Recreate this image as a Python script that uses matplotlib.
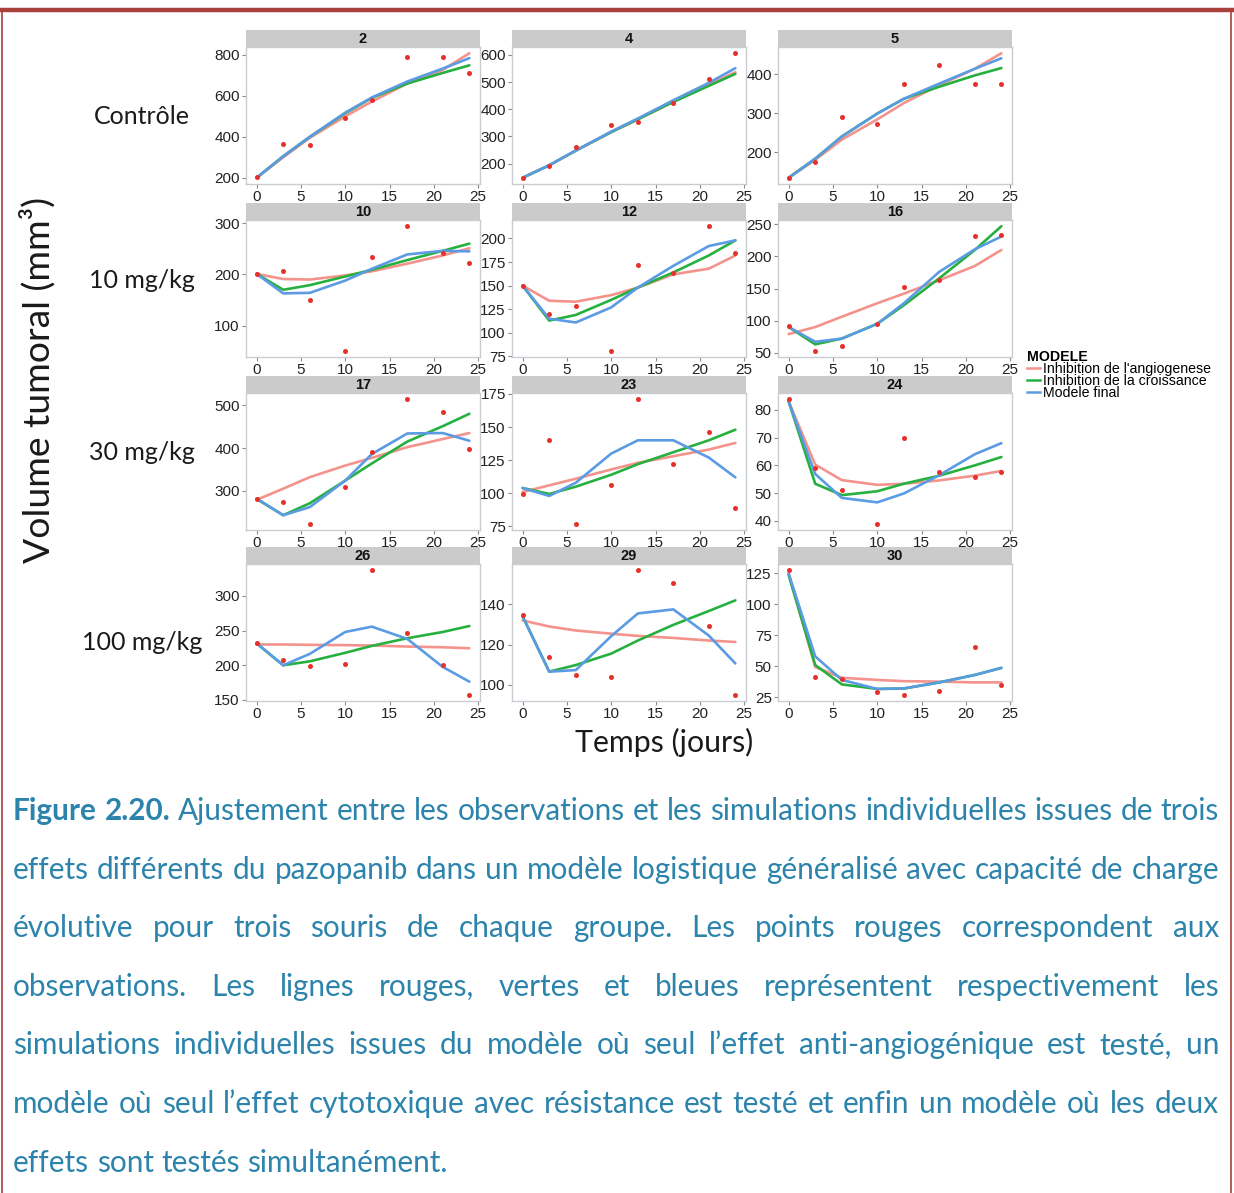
import numpy as np
import matplotlib
matplotlib.use("Agg")
import matplotlib.pyplot as plt
from matplotlib.lines import Line2D

# --- data ---
days = [0, 3, 6, 10, 13, 17, 21, 24]

panel_ids = ["2", "4", "5", "10", "12", "16", "17", "23", "24", "26", "29", "30"]
group_labels = ["Contrôle", "10 mg/kg", "30 mg/kg", "100 mg/kg"]
model_labels = ["Inhibition de l'angiogenese", "Inhibition de la croissance", "Modele final"]

obs_2 = [203, 367, 358, 490, 579, 792, 792, 713]
ang_2 = [200, 300, 395, 500, 572, 660, 727, 808]
cro_2 = [200, 305, 400, 515, 590, 660, 712, 749]
fin_2 = [200, 305, 400, 518, 592, 670, 733, 784]

obs_4 = [148, 192, 260, 341, 353, 423, 512, 606]
ang_4 = [148, 194, 248, 316, 363, 428, 490, 536]
cro_4 = [148, 194, 248, 316, 363, 427, 486, 530]
fin_4 = [148, 194, 248, 318, 366, 433, 497, 551]

obs_5 = [134, 175, 290, 273, 374, 424, 376, 375]
ang_5 = [134, 180, 232, 284, 326, 372, 414, 454]
cro_5 = [134, 183, 240, 299, 337, 368, 397, 416]
fin_5 = [134, 183, 240, 299, 337, 376, 414, 441]

obs_10 = [201, 206, 151, 51, 234, 294, 241, 222]
ang_10 = [201, 191, 190, 198, 206, 221, 237, 251]
cro_10 = [201, 170, 179, 196, 209, 228, 246, 260]
fin_10 = [201, 163, 164, 188, 211, 239, 246, 245]

obs_12 = [150, 120, 128, 81, 172, 163, 213, 185]
ang_12 = [150, 134, 133, 140, 148, 162, 168, 182]
cro_12 = [150, 113, 119, 135, 148, 164, 182, 198]
fin_12 = [150, 115, 111, 127, 148, 171, 192, 198]

obs_16 = [91, 53, 60, 94, 153, 163, 232, 234]
ang_16 = [79, 90, 106, 127, 142, 163, 185, 210]
cro_16 = [90, 63, 72, 95, 124, 166, 210, 247]
fin_16 = [90, 67, 72, 95, 127, 176, 211, 231]

obs_17 = [281, 275, 223, 310, 391, 514, 484, 398]
ang_17 = [279, 305, 332, 359, 377, 402, 421, 435]
cro_17 = [281, 243, 271, 324, 364, 415, 451, 480]
fin_17 = [282, 243, 262, 324, 386, 434, 435, 417]

obs_23 = [99.5, 140, 77, 106, 171, 122, 146, 89]
ang_23 = [101, 106, 111, 118, 123, 128, 133, 138]
cro_23 = [104, 99.5, 105, 114, 122, 131, 140, 148]
fin_23 = [104, 98, 108, 130, 140, 140, 127, 112]

obs_24 = [83.8, 59, 51, 39, 70, 57.5, 56, 57.5]
ang_24 = [83, 60.3, 54.7, 53, 53.4, 54.6, 56.3, 58]
cro_24 = [83, 53.4, 49.3, 50.7, 53.4, 56.3, 60, 63]
fin_24 = [83, 56.9, 48.3, 46.7, 49.9, 56.5, 64, 68]

obs_26 = [231.6, 207, 198.6, 202, 337, 247, 200, 157.5]
ang_26 = [230, 230, 229.5, 229, 228.5, 227, 226, 224.5]
cro_26 = [231.6, 200, 205.7, 218, 228, 239, 248, 256.6]
fin_26 = [231.6, 200, 216.5, 248, 255.7, 238, 197.6, 176.4]

obs_29 = [134.8, 114, 105, 104, 157, 150.6, 129.4, 95]
ang_29 = [132, 129, 127, 125.4, 124.3, 123.3, 122, 121.3]
cro_29 = [134, 106.5, 109.8, 115.5, 122, 129.8, 136.7, 142]
fin_29 = [134, 106.5, 107.3, 124.2, 135.5, 137.5, 124.5, 110.6]

obs_30 = [127.6, 41, 40, 29, 27, 30, 65.5, 34.5]
ang_30 = [125, 49.5, 40.7, 39, 38, 37.6, 37, 37]
cro_30 = [123.7, 51, 35.4, 31.7, 32, 37, 43, 48.7]
fin_30 = [125, 58, 39, 31.7, 32.2, 37, 43, 48.7]

yticks_2 = [200, 400, 600, 800]
yticks_4 = [200, 300, 400, 500, 600]
yticks_5 = [200, 300, 400]
yticks_10 = [100, 200, 300]
yticks_12 = [75, 100, 125, 150, 175, 200]
yticks_16 = [50, 100, 150, 200, 250]
yticks_17 = [300, 400, 500]
yticks_23 = [75, 100, 125, 150, 175]
yticks_24 = [40, 50, 60, 70, 80]
yticks_26 = [150, 200, 250, 300]
yticks_29 = [100, 120, 140]
yticks_30 = [25, 50, 75, 100, 125]
xticks = [0, 5, 10, 15, 20, 25]

caption_lines = [
    "Figure 2.20. Ajustement entre les observations et les simulations individuelles issues de trois",
    "effets différents du pazopanib dans un modèle logistique généralisé avec capacité de charge",
    "évolutive pour trois souris de chaque groupe. Les points rouges correspondent aux",
    "observations. Les lignes rouges, vertes et bleues représentent respectivement les",
    "simulations individuelles issues du modèle où seul l’effet anti-angiogénique est testé, un",
    "modèle où seul l’effet cytotoxique avec résistance est testé et enfin un modèle où les deux",
    "effets sont testés simultanément.",
]

panels = {
    "2": (obs_2, ang_2, cro_2, fin_2, yticks_2),
    "4": (obs_4, ang_4, cro_4, fin_4, yticks_4),
    "5": (obs_5, ang_5, cro_5, fin_5, yticks_5),
    "10": (obs_10, ang_10, cro_10, fin_10, yticks_10),
    "12": (obs_12, ang_12, cro_12, fin_12, yticks_12),
    "16": (obs_16, ang_16, cro_16, fin_16, yticks_16),
    "17": (obs_17, ang_17, cro_17, fin_17, yticks_17),
    "23": (obs_23, ang_23, cro_23, fin_23, yticks_23),
    "24": (obs_24, ang_24, cro_24, fin_24, yticks_24),
    "26": (obs_26, ang_26, cro_26, fin_26, yticks_26),
    "29": (obs_29, ang_29, cro_29, fin_29, yticks_29),
    "30": (obs_30, ang_30, cro_30, fin_30, yticks_30),
}

# --- styling ---
W, H = 1234, 1193
line_colors = ["#F4938C", "#26B040", "#5B9BE3"]
pt_color = "#E8302A"
grid_col = "#C9CDD2"
strip_col = "#CBCBCB"
tick_col = "#222222"
cap_col = "#2C84AC"
border_col = "#A8403B"
chart_font = "Liberation Sans"
text_font = "Lato"


def fx(x):
    return x / W


def fy(y):
    return 1 - y / H


fig = plt.figure(figsize=(W / 100, H / 100), dpi=100)
fig.patch.set_facecolor("white")

col_x = [246, 512, 778]
panel_w = 234
row_top = [47, 220, 393, 564]
panel_h = 137
strip_h = 17

for k, pid in enumerate(panel_ids):
    r, c = divmod(k, 3)
    obs, ang, cro, fin, yt = panels[pid]
    x0, top = col_x[c], row_top[r]
    ax = fig.add_axes([fx(x0), fy(top + panel_h), panel_w / W, panel_h / H])
    for vals, col in zip([ang, cro, fin], line_colors):
        ax.plot(days, vals, color=col, lw=1.9, solid_capstyle="round", zorder=2)
    ax.plot(days, obs, "o", color=pt_color, ms=3.6, mec="none", zorder=3)

    # ggplot-like 5% expansion on y, fixed x range
    allv = np.concatenate([obs, ang, cro, fin])
    lo, hi = allv.min(), allv.max()
    pad = (hi - lo) * 0.05
    ax.set_ylim(lo - pad, hi + pad)
    ax.set_xlim(-1.2, 25.2)
    ax.set_xticks(xticks)
    ax.set_yticks(yt)
    ax.tick_params(axis="both", length=3, width=0.8, color="#8a8a8a",
                   labelsize=11, labelcolor=tick_col, pad=1.5)
    for lab in ax.get_xticklabels() + ax.get_yticklabels():
        lab.set_fontfamily(chart_font)
    for sp in ax.spines.values():
        sp.set_color(grid_col)
        sp.set_linewidth(1.0)

    # facet strip
    sax = fig.add_axes([fx(x0), fy(top), panel_w / W, strip_h / H])
    sax.set_facecolor(strip_col)
    sax.set_xticks([])
    sax.set_yticks([])
    for sp in sax.spines.values():
        sp.set_visible(False)
    sax.text(0.5, 0.45, pid, ha="center", va="center", fontsize=10.5,
             fontweight="bold", family=chart_font, color="#111111")

# row labels
row_label_y = [117, 280, 452, 642]
for lab, yy in zip(group_labels, row_label_y):
    fig.text(fx(142), fy(yy), lab, ha="center", va="center", fontsize=18,
             family=text_font, color="#1a1a1a")

fig.text(fx(37), fy(380), "Volume tumoral (mm³)", rotation=90, ha="center",
         va="center", fontsize=26.8, family=text_font, color="#1a1a1a")
fig.text(fx(664), fy(742), "Temps (jours)", ha="center", va="center",
         fontsize=21.8, family=text_font, color="#1a1a1a")

# legend
handles = [Line2D([], [], color=c, lw=1.8) for c in line_colors]
leg = fig.legend(handles, model_labels, title="MODELE", loc="upper left",
                 bbox_to_anchor=(fx(1020), fy(343)), frameon=False,
                 handlelength=0.9, handletextpad=0.25, labelspacing=-0.15,
                 borderpad=0.0, prop={"family": chart_font, "size": 10.2})
leg.get_title().set_fontweight("bold")
leg.get_title().set_fontfamily(chart_font)
leg.get_title().set_fontsize(10.2)
leg._legend_box.align = "left"

# caption, justified word by word
renderer = fig.canvas.get_renderer()
cap_left, cap_right = 13, 1219
cap_y0, cap_dy = 811, 58.6
cap_size = 21.4
sp_t = fig.text(0, 0, "a a", fontsize=cap_size, family=text_font)
sp_t2 = fig.text(0, 0, "aa", fontsize=cap_size, family=text_font)
space_w = sp_t.get_window_extent(renderer).width - sp_t2.get_window_extent(renderer).width
sp_t.remove()
sp_t2.remove()

for i, line in enumerate(caption_lines):
    words = line.split(" ")
    texts, widths = [], []
    for j, w in enumerate(words):
        bold = (i == 0 and j < 2)
        t = fig.text(0, fy(cap_y0 + i * cap_dy), w, ha="left", va="center",
                     fontsize=cap_size, family=text_font, color=cap_col,
                     fontweight="bold" if bold else "normal")
        texts.append(t)
        widths.append(t.get_window_extent(renderer).width)
    last = i == len(caption_lines) - 1
    gap = space_w if last else (cap_right - cap_left - sum(widths)) / (len(words) - 1)
    x = cap_left
    for t, wd in zip(texts, widths):
        t.set_x(fx(x))
        x += wd + gap

# frame around the figure
fig.add_artist(Line2D([0, 1], [fy(10), fy(10)], color=border_col, lw=3.2))
fig.add_artist(Line2D([fx(2), fx(2)], [fy(10), 0], color=border_col, lw=1.2))
fig.add_artist(Line2D([fx(1231), fx(1231)], [fy(10), 0], color=border_col, lw=1.2))

fig.savefig("out.png", dpi=100)
